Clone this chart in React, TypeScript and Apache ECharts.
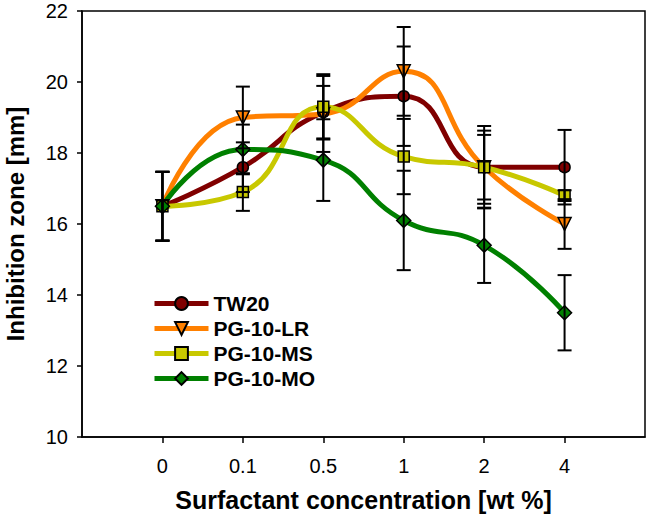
import { useEffect, useRef } from 'react';
import * as echarts from 'echarts';

// concentration categories (wt %)
const categories = ['0', '0.1', '0.5', '1', '2', '4'];
const seriesNames = ['TW20', 'PG-10-LR', 'PG-10-MS', 'PG-10-MO'];

// inhibition zone means [mm]
const tw20 = [16.5, 17.6, 19.15, 19.6, 17.6, 17.6];
const pgLR = [16.5, 19.0, 19.1, 20.3, 17.6, 16.0];
const pgMS = [16.5, 16.9, 19.3, 17.9, 17.6, 16.8];
const pgMO = [16.5, 18.1, 17.8, 16.1, 15.4, 13.5];

// error bar half-widths
const tw20Err = [0.97, 0.7, 0.74, 1.4, 1.03, 1.05];
const pgLRErr = [0.97, 0.87, 1.07, 1.25, 1.16, 0.7];
const pgMSErr = [0.97, 0.53, 0.92, 1.06, 0.91, 0.15];
const pgMOErr = [0.97, 0.7, 1.15, 1.4, 1.06, 1.06];

const yMin = 10;
const yMax = 22;
const yStep = 2;

const colors = ['#800000', '#ff8000', '#c8c800', '#008000'];
const symbols = ['circle', 'triangle', 'rect', 'diamond'];
const FONT = '"Liberation Sans", Arial, sans-serif';

function App() {
  const chartRef = useRef<HTMLDivElement>(null);

  useEffect(() => {
    if (!chartRef.current) return;
    const chart = echarts.init(chartRef.current, null, { renderer: 'svg' });

    // axis gets an empty slot on each side
    const axisCats = ['', ...categories, ' '];
    const means = [tw20, pgLR, pgMS, pgMO];
    const errs = [tw20Err, pgLRErr, pgMSErr, pgMOErr];

    const lineSeries = seriesNames.map((name, s) => ({
      name,
      type: 'line',
      smooth: true,
      data: means[s].map((v, i) => [i + 1, v]),
      symbol: symbols[s],
      symbolSize: s === 3 ? 14 : s === 1 ? 13 : 11,
      symbolRotate: s === 1 ? 180 : 0,
      lineStyle: { color: colors[s], width: 5 },
      itemStyle: { color: colors[s], borderColor: '#000', borderWidth: 1.5 },
      z: 2,
    }));

    const errData: number[][] = [];
    means.forEach((arr, s) => {
      arr.forEach((v, i) => {
        errData.push([i + 1, v - errs[s][i], v + errs[s][i]]);
      });
    });

    const errSeries = {
      type: 'custom',
      z: 3,
      data: errData,
      encode: { x: 0, y: [1, 2] },
      renderItem: (_params: any, api: any) => {
        const x = api.value(0);
        const lo = api.coord([x, api.value(1)]);
        const hi = api.coord([x, api.value(2)]);
        const half = 7;
        const style = { stroke: '#000', lineWidth: 2 };
        return {
          type: 'group',
          children: [
            { type: 'line', shape: { x1: lo[0], y1: lo[1], x2: hi[0], y2: hi[1] }, style },
            { type: 'line', shape: { x1: lo[0] - half, y1: lo[1], x2: lo[0] + half, y2: lo[1] }, style },
            { type: 'line', shape: { x1: hi[0] - half, y1: hi[1], x2: hi[0] + half, y2: hi[1] }, style },
          ],
        };
      },
    };

    chart.setOption({
      animation: false,
      backgroundColor: '#fff',
      textStyle: { fontFamily: FONT },
      grid: {
        left: 82,
        right: 1,
        top: 11,
        bottom: 84,
        outerBoundsMode: 'none',
        show: true,
        borderColor: '#000',
        borderWidth: 1.5,
      },
      legend: {
        orient: 'vertical',
        left: 147,
        top: 288,
        itemWidth: 54,
        itemHeight: 16,
        itemGap: 4,
        data: seriesNames,
        lineStyle: { width: 5 },
        textStyle: { fontFamily: FONT, fontSize: 21, fontWeight: 'bold', color: '#000' },
      },
      xAxis: {
        type: 'category',
        data: axisCats,
        boundaryGap: false,
        name: 'Surfactant concentration [wt %]',
        nameLocation: 'middle',
        nameGap: 50,
        nameTextStyle: { fontFamily: FONT, fontSize: 25, fontWeight: 'bold', color: '#000' },
        axisLine: { lineStyle: { color: '#000', width: 1.5 } },
        axisTick: {
          show: true,
          length: 6,
          interval: (index: number) => index > 0 && index < axisCats.length - 1,
          lineStyle: { color: '#000', width: 1.5 },
        },
        axisLabel: { interval: 0, margin: 19, fontFamily: FONT, fontSize: 20, color: '#000' },
        splitLine: { show: false },
      },
      yAxis: {
        type: 'value',
        min: yMin,
        max: yMax,
        interval: yStep,
        name: 'Inhibition zone [mm]',
        nameLocation: 'middle',
        nameGap: 55,
        nameTextStyle: { fontFamily: FONT, fontSize: 24, fontWeight: 'bold', color: '#000' },
        axisLine: { show: true, lineStyle: { color: '#000', width: 1.5 } },
        axisTick: { show: true, length: 5, lineStyle: { color: '#000', width: 1.5 } },
        axisLabel: { margin: 14, fontFamily: FONT, fontSize: 20, color: '#000' },
        splitLine: { show: false },
      },
      series: [...lineSeries, errSeries],
    });

    return () => {
      chart.dispose();
    };
  }, []);

  return (
    <div
      ref={chartRef}
      style={{ position: 'fixed', left: 0, top: 0, width: 646, height: 521 }}
    />
  );
}

export default App;
